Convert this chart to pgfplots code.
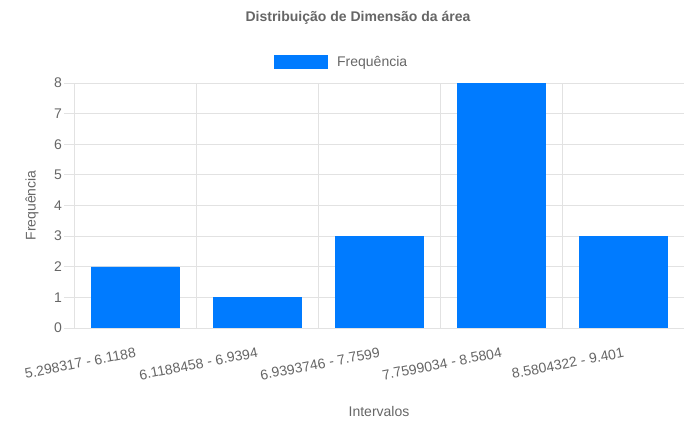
\documentclass[border=0pt]{standalone}
\usepackage{pgfplots}
\pgfplotsset{compat=1.18}
\usepackage{fontspec}
\setmainfont{Liberation Sans}
\definecolor{barblue}{RGB}{0,123,255}
\definecolor{txt}{RGB}{102,102,102}
\definecolor{gridc}{RGB}{226,226,226}
\begin{document}
\begin{tikzpicture}[x=1pt,y=1pt]
\path[use as bounding box] (0,0) rectangle (684,428);
\node[font=\fontsize{14}{16}\selectfont\bfseries, text=txt] at (358,410) {Distribuição de Dimensão da área};
\begin{axis}[
  at={(74pt,100pt)}, anchor=south west,
  scale only axis, width=610pt, height=245pt,
  xmin=-0.5, xmax=4.5, ymin=0, ymax=8,
  ytick={0,...,8},
  xtick={0,...,4},
  xticklabels={5.298317 - 6.1188, 6.1188458 - 6.9394, 6.9393746 - 7.7599, 7.7599034 - 8.5804, 8.5804322 - 9.401},
  /pgf/number format/assume math mode=true,
  axis line style={draw=none},
  tick align=outside,
  major tick length=10pt,
  x tick style={draw=none},
  y tick style={gridc, line width=0.8pt},
  ymajorgrids,
  grid style={gridc, line width=0.8pt},
  extra x ticks={-0.5,0.5,1.5,2.5,3.5,4.5},
  extra x tick labels={},
  extra x tick style={grid=major, tick style={draw=gridc, line width=0.8pt}, major tick length=10pt},
  tick label style={font=\fontsize{14}{16}\selectfont, text=txt},
  x tick label style={rotate=11, anchor=north east, inner sep=1pt, yshift=-8pt, xshift=-1pt},
  y tick label style={xshift=0pt, inner sep=2pt},
  ylabel={Frequência},
  xlabel={Intervalos},
  every axis y label/.style={at={(axis description cs:-0.069,0.5)}, rotate=90, anchor=center, font=\fontsize{14}{16}\selectfont, text=txt},
  every axis x label/.style={at={(axis description cs:0.5,-0.34)}, anchor=center, font=\fontsize{14}{16}\selectfont, text=txt},
  legend style={at={(0.4385,1.086)}, anchor=center, draw=none, fill=none, font=\fontsize{14}{16}\selectfont, text=txt, /tikz/every odd column/.append style={column sep=8pt}},
  legend image code/.code={\fill[barblue] (0pt,-6.5pt) rectangle (53pt,6.5pt);},
  clip=false,
]
\addplot[ybar, bar width=88pt, fill=barblue, draw=barblue] coordinates {(0,2) (1,1) (2,3) (3,8) (4,3)};
\addlegendentry{Frequência}
\draw[gridc, line width=0.8pt] (axis cs:-0.5,0) -- (axis cs:4.5,0);
\end{axis}
\end{tikzpicture}
\end{document}
